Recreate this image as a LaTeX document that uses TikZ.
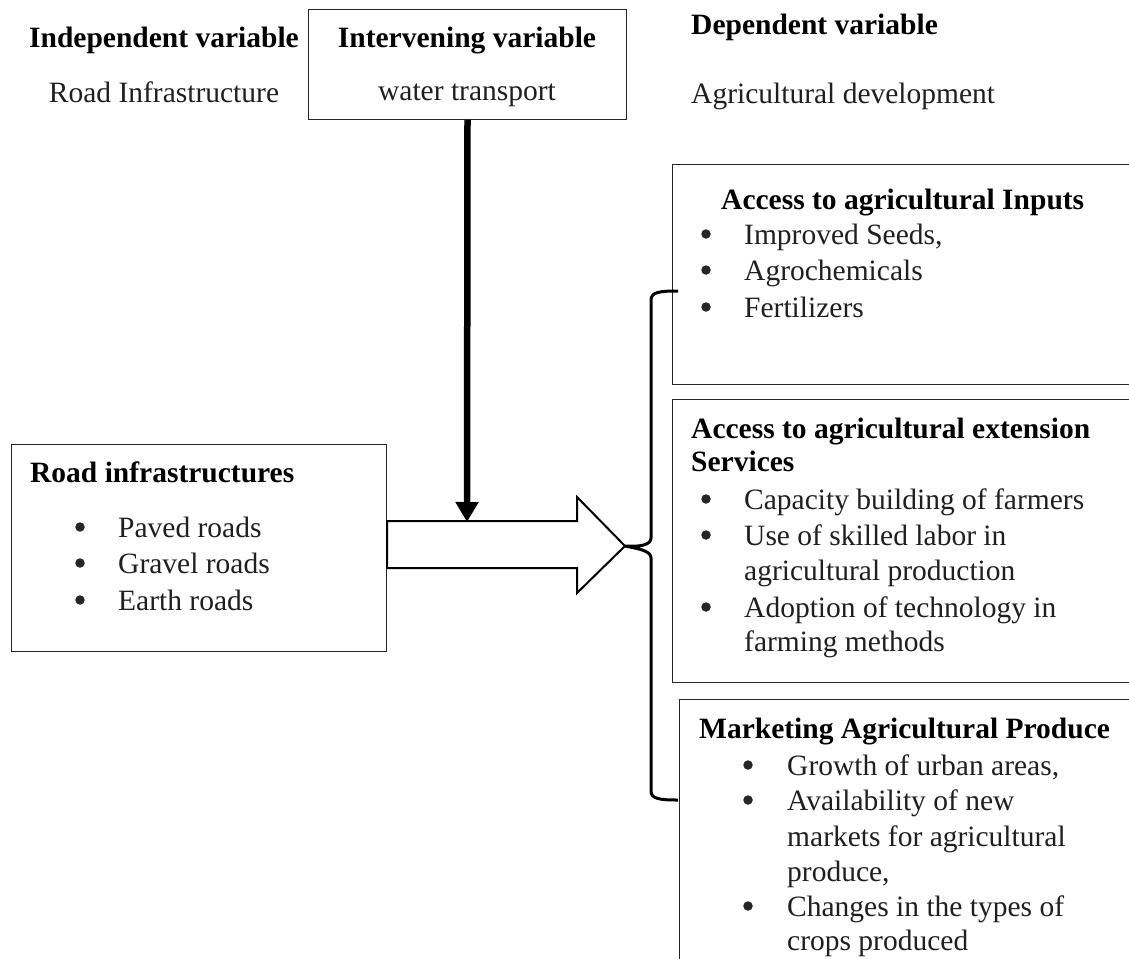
\documentclass[tikz,border=0pt]{standalone}
\usepackage{fontspec}
\setmainfont{Liberation Serif}
\usetikzlibrary{arrows.meta}
\begin{document}
\begin{tikzpicture}[x=1pt,y=-1pt,
  box/.style={draw=black!85, line width=1pt, inner sep=0pt},
  txt/.style={anchor=base west, inner sep=0pt, font=\fontsize{29.5}{36}\selectfont, text=black!88},
  btxt/.style={anchor=base west, inner sep=0pt, font=\fontsize{29.5}{36}\selectfont\bfseries, text=black},
  bul/.style={circle, fill=black!85, inner sep=0pt, minimum size=9.5pt, yshift=10pt},
]
\useasboundingbox (0,0) rectangle (1129,958);
\clip (0,0) rectangle (1129,958);

% headings
\node[btxt, anchor=base] (indep) at (164,48) {Independent variable};
\node[txt, anchor=base] (indepsub) at (164,102) {Road Infrastructure};
\node[btxt] (dep) at (691,35) {Dependent variable};
\node[txt] (depsub) at (691,103) {Agricultural development};

% intervening box
\node[box, anchor=north west, minimum width=318pt, minimum height=110pt] (interv) at (308,9) {};
\node[btxt, anchor=base] (intervt) at (467,48) {Intervening variable};
\node[txt, anchor=base] (intervs) at (467,100) {water transport};

% road box
\node[box, anchor=north west, minimum width=375pt, minimum height=207pt] (road) at (11,444) {};
\node[btxt] (roadt) at (30,482) {Road infrastructures};
\node[bul] (rb1) at (80,537) {};
\node[txt] (rt1) at (118,537) {Paved roads};
\node[bul] (rb2) at (80,573) {};
\node[txt] (rt2) at (118,573) {Gravel roads};
\node[bul] (rb3) at (80,610) {};
\node[txt] (rt3) at (118,610) {Earth roads};

% inputs box
\node[box, anchor=north west, minimum width=520pt, minimum height=220pt] (inputs) at (672,164) {};
\node[btxt] (inputst) at (721,209) {Access to agricultural Inputs};
\node[bul] (ib1) at (706,244) {};
\node[txt] (it1) at (744,244) {Improved Seeds,};
\node[bul] (ib2) at (706,280) {};
\node[txt] (it2) at (744,280) {Agrochemicals};
\node[bul] (ib3) at (706,317) {};
\node[txt] (it3) at (744,317) {Fertilizers};

% extension box
\node[box, anchor=north west, minimum width=520pt, minimum height=283pt] (ext) at (672,399) {};
\node[btxt] (extt1) at (691,438) {Access to agricultural extension};
\node[btxt] (extt2) at (691,471) {Services};
\node[bul] (eb1) at (706,509) {};
\node[txt] (et1) at (744,509) {Capacity building of farmers};
\node[bul] (eb2) at (706,545) {};
\node[txt] (et2) at (744,545) {Use of skilled labor in};
\node[txt] (et2b) at (744,580) {agricultural production};
\node[bul] (eb3) at (706,617) {};
\node[txt] (et3) at (744,617) {Adoption of technology in};
\node[txt] (et3b) at (744,651) {farming methods};

% marketing box
\node[box, anchor=north west, minimum width=520pt, minimum height=320pt] (mkt) at (679,699) {};
\node[btxt] (mktt) at (699,738) {Marketing Agricultural Produce};
\node[bul] (mb1) at (748,775) {};
\node[txt] (mt1) at (787,775) {Growth of urban areas,};
\node[bul] (mb2) at (748,810) {};
\node[txt] (mt2) at (787,810) {Availability of new};
\node[txt] (mt2b) at (787,846) {markets for agricultural};
\node[txt] (mt2c) at (787,881) {produce,};
\node[bul] (mb3) at (748,916) {};
\node[txt] (mt3) at (787,916) {Changes in the types of};
\node[txt] (mt3b) at (787,950) {crops produced};

% big block arrow
\coordinate (tip) at (625,546);
\draw[line width=2pt, fill=white, line join=miter]
  (road.east |- 0,521) -- (577,521) -- (577,497) -- (tip) -- (577,593) -- (577,568) -- (road.east |- 0,568) -- cycle;

% intervening arrow
\coordinate (ivend) at (467,522);
\draw[line width=6.5pt, -{Triangle[width=22pt,length=20pt]}] (interv.south) -- (ivend);

% brace
\coordinate (btop) at (678,291);
\coordinate (bbot) at (678,800);
\draw[line width=3pt]
  (btop) .. controls (660,291) and (651,292) .. (651,300) -- (651,538)
  .. controls (651,545) and (640,547) .. (tip)
  .. controls (640,549) and (651,551) .. (651,558) -- (651,791)
  .. controls (651,799) and (660,800) .. (bbot);
\end{tikzpicture}
\end{document}
